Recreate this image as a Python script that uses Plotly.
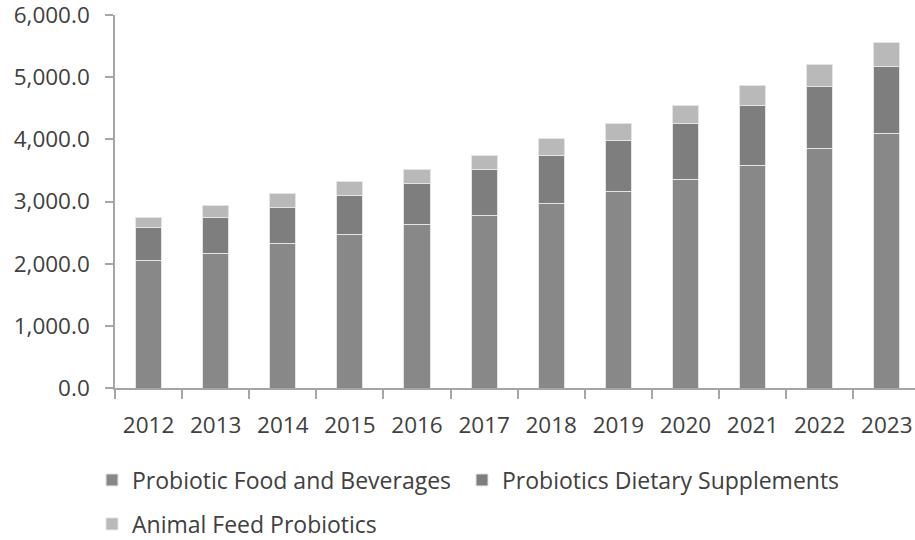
import plotly.graph_objects as go

# Market size by segment, 2012-2023
years = ["2012", "2013", "2014", "2015", "2016", "2017",
         "2018", "2019", "2020", "2021", "2022", "2023"]
food_beverages = [2045, 2169, 2330, 2464, 2625, 2781, 2974, 3167, 3360, 3586, 3849, 4101]
dietary_supplements = [543, 580, 580, 639, 671, 740, 773, 810, 902, 966, 993, 1063]
animal_feed = [161, 193, 225, 219, 225, 226, 263, 285, 290, 322, 359, 387]

series = [
    ("Probiotic Food and Beverages", food_beverages, "#888888", "legend"),
    ("Probiotics Dietary Supplements", dietary_supplements, "#7e7e7e", "legend2"),
    ("Animal Feed Probiotics", animal_feed, "#b9b9b9", "legend3"),
]

W, H = 915, 540
L, R, T, B = 115, 0, 15, 152
plot_h = H - T - B

fig = go.Figure()
for name, vals, color, leg in series:
    fig.add_trace(go.Bar(
        x=years, y=vals, name=name, legend=leg,
        marker=dict(color=color, line=dict(color="#e4e4e4", width=1)),
    ))

axis_col = "#a6a6a6"
tick_font = dict(family="Open Sans", size=22.5, color="#404040")
leg_font = dict(family="Open Sans", size=23, color="#404040")


def py(pix):
    # convert a page pixel row to paper y
    return (H - B - pix) / plot_h


def px(pix):
    return (pix - L) / (W - L - R)


legend_common = dict(
    orientation="h", xanchor="left", yanchor="middle",
    bgcolor="rgba(0,0,0,0)", font=leg_font, borderwidth=0,
)

fig.update_layout(
    width=W, height=H,
    margin=dict(l=L, r=R, t=T, b=B, autoexpand=False),
    paper_bgcolor="white", plot_bgcolor="white",
    barmode="stack", bargap=0.61,
    showlegend=True,
    legend=dict(x=px(92), y=py(480), **legend_common),
    legend2=dict(x=px(462), y=py(480), **legend_common),
    legend3=dict(x=px(92), y=py(524), **legend_common),
    xaxis=dict(
        type="category", range=[-0.5, 11.42],
        showline=True, linecolor=axis_col, linewidth=1.5,
        ticks="outside", ticklen=9, tickcolor=axis_col, tickwidth=1.5,
        tickson="boundaries", tickfont=tick_font, ticklabelstandoff=16,
        ticklabeloverflow="allow",
        showgrid=False, zeroline=False,
    ),
    yaxis=dict(
        range=[0, 6000], dtick=1000, tickformat=",.1f",
        showline=True, linecolor=axis_col, linewidth=1.5,
        ticks="outside", ticklen=8, tickcolor=axis_col, tickwidth=1.5,
        tickfont=tick_font, ticklabelstandoff=11,
        ticklabeloverflow="allow",
        showgrid=False, zeroline=False,
    ),
)

fig.write_html("out.html")
